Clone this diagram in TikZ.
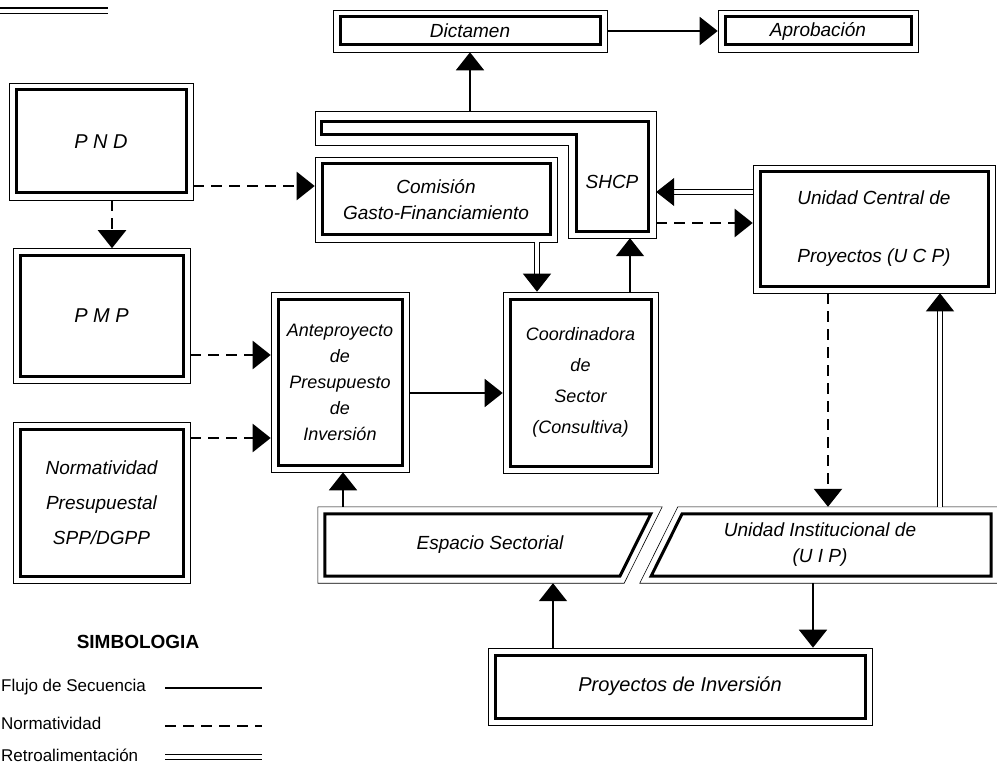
\documentclass[tikz,border=0pt]{standalone}
\usepackage{fontspec}
\setmainfont{Liberation Sans}
\usetikzlibrary{arrows.meta}
\tikzset{
    caja/.style={draw, line width=0.6pt, inner sep=0pt, align=center,
        font=\itshape\fontsize{19}{26}\selectfont,
        path picture={\draw[line width=3pt]
            ([shift={(7pt,-7pt)}]path picture bounding box.north west) rectangle
            ([shift={(-7pt,7pt)}]path picture bounding box.south east);}},
    rotulo/.style={inner sep=0pt, align=center, font=\itshape\fontsize{19}{26}\selectfont},
    punta/.style={-{Triangle[width=28pt,length=18pt]}},
    flujo/.style={punta, line width=1.8pt},
    norma/.style={punta, line width=2.4pt, dash pattern=on 11pt off 7pt},
    retro/.style={punta, line width=1pt, double, double distance=4pt},
    leyenda/.style={anchor=west, inner sep=0pt, font=\fontsize{17}{20}\selectfont},
}
\begin{document}
\begin{tikzpicture}[x=1pt,y=-1pt]
    \useasboundingbox (0,0) rectangle (997,765);
    \draw[line width=1.2pt] (0,8) -- (108,8);
    \draw[line width=0.8pt] (0,13) -- (108,13);

    \node[caja, minimum width=274pt, minimum height=42pt] (dict) at (470,31) {Dictamen};
    \node[caja, minimum width=200pt, minimum height=42pt] (aprob) at (818,31) {Aprobación};
    \node[caja, minimum width=184pt, minimum height=117pt,
        font=\itshape\fontsize{20}{26}\selectfont] (pnd) at (101,141.5) {P N D};
    \node[caja, minimum width=177pt, minimum height=135pt,
        font=\itshape\fontsize{20}{26}\selectfont] (pmp) at (101.5,316) {P M P};
    \node[caja, minimum width=177pt, minimum height=161pt,
        font=\itshape\fontsize{19}{35}\selectfont] (norm) at (101.5,502.5)
        {Normatividad\\Presupuestal\\SPP/DGPP};
    \node[caja, minimum width=242pt, minimum height=85pt] (com) at (436,199.5)
        {Comisión\\Gasto-Financiamiento};
    \node[caja, minimum width=138pt, minimum height=180pt,
        font=\itshape\fontsize{18}{26}\selectfont] (ante) at (340,382)
        {Anteproyecto\\de\\Presupuesto\\de\\Inversión};
    \node[caja, minimum width=155pt, minimum height=181pt,
        font=\itshape\fontsize{18}{31}\selectfont] (coord) at (580.5,382.5)
        {Coordinadora\\de\\Sector\\(Consultiva)};
    \node[caja, minimum width=242pt, minimum height=128pt,
        font=\itshape\fontsize{19}{58}\selectfont] (ucp) at (874,229)
        {Unidad Central de\\Proyectos (U C P)};
    \node[caja, minimum width=384pt, minimum height=77pt,
        font=\itshape\fontsize{20}{26}\selectfont] (proy) at (680,686.5)
        {Proyectos de Inversión};

    % SHCP
    \node[minimum width=341pt, minimum height=126pt, inner sep=0pt] (shcp) at (485.5,175) {};
    \draw[line width=0.6pt] (shcp.north west) -- (shcp.north east) -- (shcp.south east)
        -- ([xshift=-88pt]shcp.south east) |- ([yshift=-34pt]shcp.north west) -- cycle;
    \draw[line width=3pt] ([shift={(7pt,-10pt)}]shcp.north west) -- ([shift={(-8pt,-10pt)}]shcp.north east)
        -- ([shift={(-8pt,7pt)}]shcp.south east) -- ([shift={(-80pt,7pt)}]shcp.south east)
        |- ([shift={(7pt,-23pt)}]shcp.north west) -- cycle;
    \node[rotulo] (shcpT) at (612,182) {SHCP};

    % bloques inclinados
    \node[rotulo, minimum width=344pt, minimum height=76pt] (esp) at (490,545) {Espacio Sectorial};
    \draw[line width=0.6pt] (esp.north west) -- (esp.north east)
        -- ([xshift=-38pt]esp.south east) -- (esp.south west) -- cycle;
    \draw[line width=3pt] ([shift={(7pt,-7pt)}]esp.north west) -- ([shift={(-11.3pt,-7pt)}]esp.north east)
        -- ([shift={(-42.3pt,7pt)}]esp.south east) -- ([shift={(7pt,7pt)}]esp.south west) -- cycle;
    \node[rotulo, minimum width=360pt, minimum height=76pt] (uip) at (820,545)
        {Unidad Institucional de\\(U I P)};
    \draw[line width=0.6pt] ([xshift=38pt]uip.north west) -- (uip.north east)
        -- (uip.south east) -- (uip.south west) -- cycle;
    \draw[line width=3pt] ([shift={(42.3pt,-7pt)}]uip.north west) -- ([shift={(-9pt,-7pt)}]uip.north east)
        -- ([shift={(-9pt,7pt)}]uip.south east) -- ([shift={(11.3pt,7pt)}]uip.south west) -- cycle;

    \draw[flujo] (dict) -- (aprob);
    \draw[flujo] (shcp.north -| dict.south) -- (dict.south);
    \draw[norma] (pnd.south -| 112,0) -- (pmp.north -| 112,0);
    \draw[norma] (pnd.east |- 0,186) -- (com.west |- 0,186);
    \draw[norma] (pmp.east |- 0,355) -- (ante.west |- 0,355);
    \draw[norma] (norm.east |- 0,438) -- (ante.west |- 0,438);
    \draw[flujo] (ante.east |- 0,393) -- (coord.west |- 0,393);
    \draw[retro] (com.south -| 537,0) -- (coord.north -| 537,0);
    \draw[flujo] (coord.north -| 630,0) -- (shcp.south -| 630,0);
    \draw[retro] (ucp.west |- 0,192) -- (shcp.east |- 0,192);
    \draw[norma] (shcp.east |- 0,223) -- (ucp.west |- 0,223);
    \draw[norma] (ucp.south -| 828,0) -- (uip.north -| 828,0);
    \draw[retro] (uip.north -| 940,0) -- (ucp.south -| 940,0);
    \draw[flujo] (esp.north -| 343,0) -- (ante.south -| 343,0);
    \draw[flujo] (proy.north -| 553,0) -- (esp.south -| 553,0);
    \draw[flujo] (uip.south -| 813,0) -- (proy.north -| 813,0);

    % simbologia
    \node[font=\bfseries\fontsize{19}{22}\selectfont] (simb) at (138,642) {SIMBOLOGIA};
    \node[leyenda] (leyFlujo) at (1,687) {Flujo de Secuencia};
    \node[leyenda] (leyNorma) at (1,723) {Normatividad};
    \node[leyenda] (leyRetro) at (1,755) {Retroalimentación};
    \coordinate (f1) at (165,688);
    \coordinate (f2) at (262,688);
    \coordinate (n1) at (165,726);
    \coordinate (n2) at (262,726);
    \coordinate (r1) at (165,757);
    \coordinate (r2) at (262,757);
    \draw[line width=1.8pt] (f1) -- (f2);
    \draw[line width=2.4pt, dash pattern=on 11pt off 7pt] (n1) -- (n2);
    \draw[line width=1pt, double, double distance=4pt] (r1) -- (r2);
\end{tikzpicture}
\end{document}
